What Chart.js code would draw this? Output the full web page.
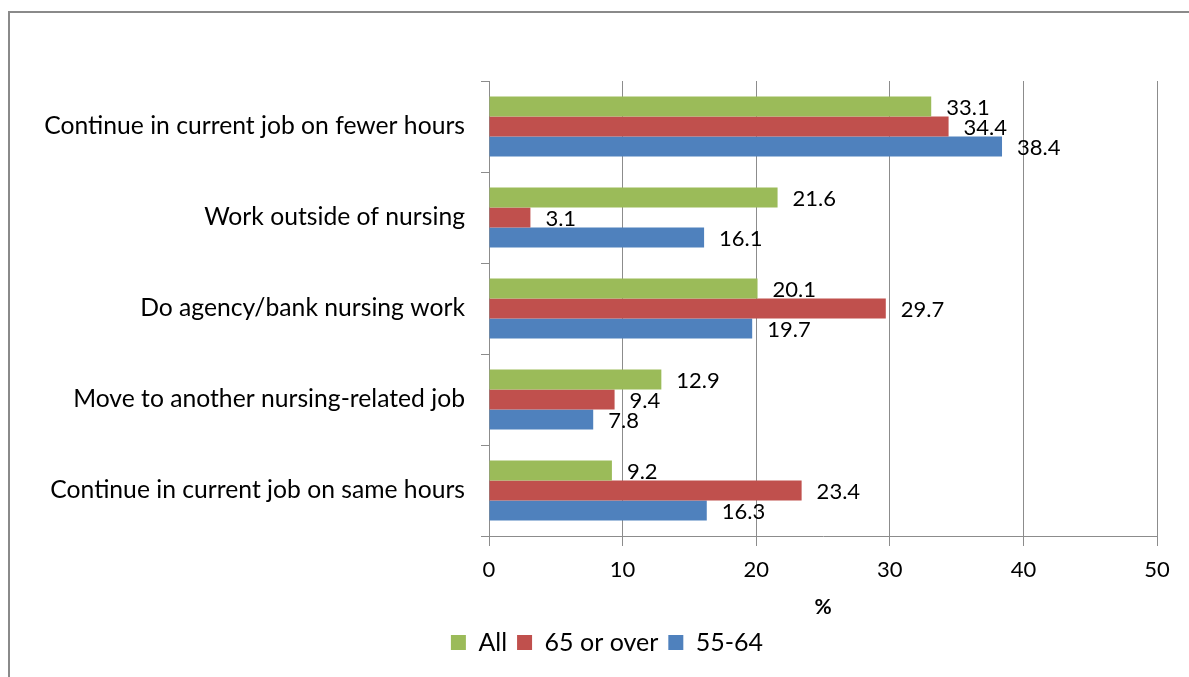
<!DOCTYPE html>
<html>
<head>
<meta charset="utf-8">
<script src="https://cdn.jsdelivr.net/npm/chart.js@4"></script>
<style>
  body { margin: 0; background: #fff; overflow: hidden; }
  #frame { position: absolute; left: 8px; top: 11px; width: 1196px; height: 700px; border: 2px solid #8a8a8a; }
  #myChart { position: absolute; left: 0; top: 0; }
</style>
</head>
<body>
<div id="frame"></div>
<canvas id="myChart" width="1214" height="677"></canvas>
<script>
// 응답 항목
const categories = [
  "Continue in current job on fewer hours",
  "Work outside of nursing",
  "Do agency/bank nursing work",
  "Move to another nursing-related job",
  "Continue in current job on same hours"
];

const allValues = [33.1, 21.6, 20.1, 12.9, 9.2];
const over65 = [34.4, 3.1, 29.7, 9.4, 23.4];
const age5564 = [38.4, 16.1, 19.7, 7.8, 16.3];

const xTicks = [0, 10, 20, 30, 40, 50];

const fontName = "Lato, 'Open Sans', sans-serif";
const gridColor = "#8c8c8c";

// 막대 끝에 값 쓰기
const valueLabels = {
  id: "valueLabels",
  afterDatasetsDraw(chart) {
    const ctx = chart.ctx;
    ctx.save();
    ctx.font = "22px " + fontName;
    ctx.fillStyle = "#000";
    ctx.textAlign = "left";
    ctx.textBaseline = "middle";
    chart.data.datasets.forEach((ds, i) => {
      const meta = chart.getDatasetMeta(i);
      meta.data.forEach((bar, j) => {
        ctx.fillText(ds.data[j].toFixed(1), bar.x + 15, bar.y + 1);
      });
    });
    ctx.restore();
  }
};

// 범례를 캔버스 전체 폭 기준으로 가운데 두기
const legendShift = {
  id: "legendShift",
  afterLayout(chart) {
    const lg = chart.legend;
    const dx = chart.width / 2 - (lg.left + lg.right) / 2;
    lg.left += dx;
    lg.right += dx;
  }
};

const ctx = document.getElementById("myChart");

new Chart(ctx, {
  type: "bar",
  data: {
    labels: categories,
    datasets: [
      { label: "All", data: allValues, backgroundColor: "#9bbb59" },
      { label: "65 or over", data: over65, backgroundColor: "#c0504d" },
      { label: "55-64", data: age5564, backgroundColor: "#4f81bd" }
    ]
  },
  options: {
    indexAxis: "y",
    responsive: false,
    animation: false,
    devicePixelRatio: 1,
    categoryPercentage: 0.66,
    barPercentage: 1,
    layout: { padding: { top: 81, right: 57, left: 0, bottom: 12 } },
    scales: {
      x: {
        min: xTicks[0],
        max: xTicks[xTicks.length - 1],
        afterBuildTicks: axis => { axis.ticks = xTicks.map(v => ({ value: v })); },
        afterFit: axis => { axis.height = 84; },
        grid: { color: gridColor, tickLength: 10, tickColor: gridColor },
        border: { color: gridColor },
        ticks: { color: "#000", font: { family: fontName, size: 22 }, padding: 11 },
        title: { display: true, text: "%", color: "#000", font: { family: fontName, size: 21, weight: "bold" }, padding: { top: 4, bottom: 0 } }
      },
      y: {
        afterFit: axis => { axis.width = 489; },
        grid: { drawOnChartArea: false, color: gridColor, tickLength: 8, tickColor: gridColor },
        border: { color: gridColor },
        ticks: { color: "#000", font: { family: fontName, size: 24.7 }, padding: 16 }
      }
    },
    plugins: {
      legend: {
        position: "bottom",
        labels: {
          color: "#000",
          font: { family: fontName, size: 25 },
          boxWidth: 15,
          boxHeight: 15,
          padding: 10
        }
      },
      tooltip: { enabled: false }
    }
  },
  plugins: [valueLabels, legendShift]
});
</script>
</body>
</html>
